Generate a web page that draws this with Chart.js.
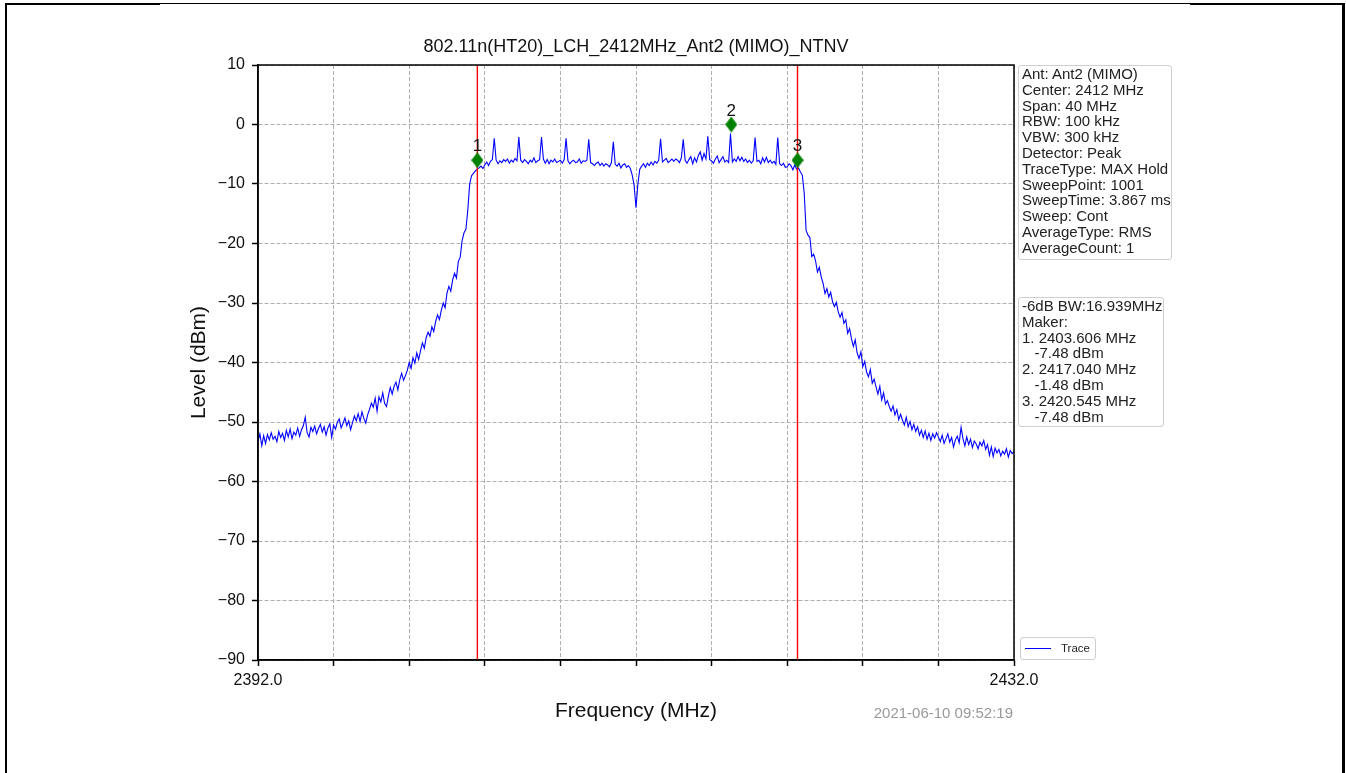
<!DOCTYPE html>
<html>
<head>
<meta charset="utf-8">
<script src="https://cdn.jsdelivr.net/npm/chart.js@4.4.1/dist/chart.umd.min.js"></script>
<style>
  body { margin: 0; background: #fff; font-family: "Liberation Sans", Arial, sans-serif; }
  #wrap { position: relative; width: 1346px; height: 773px; overflow: hidden; }
  .frame { position: absolute; left: 5px; top: 3px; width: 1340px; height: 800px; box-sizing: border-box;
           border-left: 2px solid #000; border-top: 2px solid #000; border-right: 3px solid #000; }
  .frame-cut { position: absolute; left: 160px; top: 4px; width: 1030px; height: 1px; background: #fff; }
  canvas { position: absolute; left: 0; top: 0; }
  .box { position: absolute; border: 1px solid #cfcfcf; border-radius: 3px; background: #fff;
         font-size: 15px; line-height: 15.8px; color: #222; white-space: pre; box-sizing: border-box; padding: 0 3px; }
  #info { left: 1018px; top: 65px; width: 154px; height: 195px; }
  #maker { left: 1018px; top: 297px; width: 146px; height: 130px; }
  #legend { left: 1020px; top: 637px; width: 76px; height: 23px; font-size: 11.5px; line-height: 21px; }
  #legend .swatch { position: absolute; left: 4px; top: 10px; width: 26px; height: 0; border-top: 1.5px solid #0000ff; }
  #legend span { position: absolute; left: 40px; top: 0; }
  #stamp { position: absolute; right: 333px; top: 704px; font-size: 15px; color: #999; }
</style>
</head>
<body>
<div id="wrap">
  <div class="frame"></div>
  <div class="frame-cut"></div>
  <canvas id="spectrum" width="1346" height="773"></canvas>
  <div id="info" class="box"></div>
  <div id="maker" class="box"></div>
  <div id="legend" class="box"><div class="swatch"></div><span>Trace</span></div>
  <div id="stamp">2021-06-10 09:52:19</div>
</div>
<script>
// sweep: 2392.0 .. 2432.0 MHz, one reading every 0.1 MHz
const traceStart = 2392.0
const traceStep = 0.1
const traceLevel = [
  -53.2, -52.0, -54.0, -52.3, -53.6, -52.1, -53.0, -51.8, -52.9, -52.4, -53.3, -51.6, -52.6, -51.9, -53.1, -51.4, -52.5, -51.2, -52.8, -51.7,
  -52.2, -51.0, -52.4, -51.3, -50.6, -49.2, -51.8, -52.5, -50.9, -51.6, -50.7, -52.0, -51.1, -50.4, -51.7, -50.8, -52.2, -51.0, -50.3, -52.6,
  -50.5, -51.2, -50.0, -49.5, -51.0, -50.2, -49.3, -50.6, -49.8, -51.3, -50.1, -49.0, -49.8, -48.6, -49.9, -48.3, -49.4, -50.2, -48.8, -47.9,
  -46.8, -47.5, -46.0, -48.2, -45.8, -46.6, -45.1, -46.9, -47.4, -45.6, -44.2, -45.3, -44.0, -43.3, -44.6, -42.9, -41.8, -43.0, -42.2, -41.3,
  -40.0, -41.0, -39.2, -40.1, -38.4, -39.5, -38.0, -36.7, -37.6, -35.8, -34.9, -35.6, -34.0, -34.8, -33.1, -32.0, -32.8, -31.2, -30.0, -30.8,
  -28.3, -27.2, -28.0, -26.1, -25.0, -25.8, -23.0, -22.3, -19.5, -18.2, -17.6, -14.4, -10.0, -8.6, -8.2, -7.8, -7.5, -7.3, -7.0, -7.4,
  -6.8, -6.3, -6.9, -6.2, -5.9, -2.3, -6.0, -6.6, -6.1, -6.4, -5.9, -6.2, -5.8, -6.5, -6.0, -6.3, -5.7, -6.1, -2.1, -6.0,
  -6.4, -5.9, -6.2, -6.6, -6.0, -6.3, -5.6, -6.4, -6.1, -5.9, -2.1, -5.8, -6.5, -5.9, -6.6, -6.0, -6.3, -5.8, -6.4, -6.2,
  -6.0, -6.5, -5.9, -2.3, -6.1, -6.6, -6.2, -6.0, -6.4, -6.3, -5.8, -6.5, -6.1, -6.2, -6.0, -2.5, -6.4, -6.6, -6.9, -6.5,
  -6.3, -6.9, -6.5, -7.0, -6.6, -6.8, -7.1, -6.4, -2.9, -6.7, -7.0, -6.5, -7.3, -6.8, -6.6, -7.2, -6.9, -7.4, -8.5, -10.2,
  -14.0, -10.0, -7.5, -7.0, -6.6, -7.2, -6.5, -6.9, -6.3, -6.8, -6.2, -6.5, -6.0, -2.4, -6.3, -6.0, -5.7, -6.4, -6.1, -5.8,
  -6.2, -5.8, -6.0, -6.4, -5.6, -2.5, -6.0, -6.5, -5.9, -5.4, -6.6, -5.6, -6.3, -5.2, -4.6, -6.0, -4.9, -5.8, -2.0, -5.9,
  -6.1, -6.5, -5.8, -5.3, -6.4, -5.9, -5.4, -6.3, -6.0, -6.4, -1.5, -6.3, -5.8, -6.2, -5.4, -6.1, -5.5, -6.2, -5.8, -6.4,
  -6.0, -6.5, -6.1, -2.2, -6.2, -6.0, -6.6, -5.6, -6.3, -5.5, -6.4, -6.0, -6.5, -6.2, -6.7, -2.2, -6.6, -6.9, -6.5, -7.2,
  -7.1, -6.6, -6.9, -7.6, -6.8, -7.5, -7.3, -8.0, -8.5, -11.5, -17.8, -18.6, -19.0, -22.2, -21.8, -22.9, -24.8, -24.0, -25.6, -26.7,
  -28.4, -27.6, -29.0, -28.2, -29.8, -30.6, -29.9, -31.5, -32.4, -31.6, -33.4, -32.8, -35.1, -34.3, -36.0, -37.3, -36.2, -38.4, -39.3, -38.2,
  -40.7, -39.8, -41.6, -42.4, -41.2, -43.5, -42.8, -44.1, -45.3, -44.0, -46.3, -45.1, -47.0, -46.4, -47.4, -48.2, -47.3, -48.8, -47.9, -49.6,
  -48.7, -49.7, -50.5, -49.2, -50.8, -49.9, -51.3, -50.4, -51.6, -50.8, -52.2, -51.4, -52.6, -51.5, -52.9, -51.9, -53.1, -52.0, -52.7, -51.8,
  -52.5, -53.3, -52.2, -53.6, -52.8, -52.0, -53.4, -52.6, -54.2, -53.0, -52.4, -53.5, -50.9, -52.8, -54.0, -52.5, -53.8, -52.9, -54.3, -53.2,
  -53.7, -54.5, -53.4, -54.0, -53.1, -54.6, -53.8, -55.6, -54.2, -55.8, -54.4, -55.2, -54.6, -55.7, -54.9, -55.4, -54.5, -55.9, -54.8, -55.3,
  -55.0
]

// markers (diamonds are drawn 1.48 dB above the read-out level, as in the original)
const markerNames = ["1", "2", "3"]
const markerFreq = [2403.606, 2417.040, 2420.545]
const markerLevel = [-6, 0, -6]
const bwEdgeFreq = [2403.606, 2420.545]

const xTickLabels = ["2392.0", "2432.0"]
const yTickLabels = ["\u221290", "\u221280", "\u221270", "\u221260", "\u221250", "\u221240", "\u221230", "\u221220", "\u221210", "0", "10"]

const infoLines = [
  "Ant: Ant2 (MIMO)", "Center: 2412 MHz", "Span: 40 MHz", "RBW: 100 kHz", "VBW: 300 kHz",
  "Detector: Peak", "TraceType: MAX Hold", "SweepPoint: 1001", "SweepTime: 3.867 ms",
  "Sweep: Cont", "AverageType: RMS", "AverageCount: 1"
]
const makerLines = [
  "-6dB BW:16.939MHz", "Maker:", "1. 2403.606 MHz", "   -7.48 dBm",
  "2. 2417.040 MHz", "   -1.48 dBm", "3. 2420.545 MHz", "   -7.48 dBm"
]

document.getElementById("info").textContent = infoLines.join("\n")
document.getElementById("maker").textContent = makerLines.join("\n")

// thin green diamond used as point style
const diamond = document.createElement("canvas")
diamond.width = 12
diamond.height = 16
const dctx = diamond.getContext("2d")
dctx.fillStyle = "#008000"
dctx.beginPath()
dctx.moveTo(6, 0)
dctx.lineTo(12, 8)
dctx.lineTo(6, 16)
dctx.lineTo(0, 8)
dctx.closePath()
dctx.fill()

const tracePoints = traceLevel.map((v, i) => ({ x: traceStart + i * traceStep, y: v }))
const markerPoints = markerFreq.map((f, i) => ({ x: f, y: markerLevel[i] }))

const redLines = bwEdgeFreq.map((f) => ({
  data: [{ x: f, y: -90 }, { x: f, y: 10 }],
  borderColor: "rgb(255, 0, 0)",
  backgroundColor: "rgb(255, 0, 0)",
  borderWidth: 1.4,
  pointRadius: 0,
}))

// frame around plot + marker numbers
const plotDecor = {
  id: "plotDecor",
  afterDatasetsDraw(chart) {
    const { ctx, chartArea } = chart
    ctx.save()
    ctx.font = "17px 'Liberation Sans', Arial, sans-serif"
    ctx.fillStyle = "#111"
    ctx.textAlign = "center"
    ctx.textBaseline = "alphabetic"
    chart.getDatasetMeta(0).data.forEach((pt, i) => {
      ctx.fillText(markerNames[i], pt.x, pt.y - 9)
    })
    ctx.strokeStyle = "#000"
    ctx.lineWidth = 1.5
    ctx.strokeRect(chartArea.left, chartArea.top, chartArea.right - chartArea.left, chartArea.bottom - chartArea.top)
    ctx.restore()
  },
}

const font = "'Liberation Sans', Arial, sans-serif"

new Chart(document.getElementById("spectrum"), {
  type: "line",
  data: {
    datasets: [
      {
        data: markerPoints,
        showLine: false,
        pointStyle: diamond,
        pointRadius: 7,
      },
      ...redLines,
      {
        data: tracePoints,
        borderColor: "#0000ff",
        borderWidth: 1.1,
        pointRadius: 0,
        tension: 0,
      },
    ],
  },
  options: {
    responsive: false,
    animation: false,
    devicePixelRatio: 1,
    layout: { padding: { left: 187, right: 332, top: 0, bottom: 49 } },
    plugins: {
      legend: { display: false },
      tooltip: { enabled: false },
      title: {
        display: true,
        fullSize: false,
        text: "802.11n(HT20)_LCH_2412MHz_Ant2 (MIMO)_NTNV",
        color: "#111",
        font: { family: font, size: 18, weight: "normal" },
        padding: { top: 36, bottom: 7.4 },
      },
    },
    scales: {
      x: {
        type: "linear",
        min: 2392,
        max: 2432,
        afterFit: (s) => { s.height = 64 },
        ticks: {
          stepSize: 4,
          autoSkip: false,
          maxRotation: 0,
          padding: 5,
          color: "#111",
          font: { family: font, size: 16 },
          callback: (v, i, ticks) => (i === 0 ? xTickLabels[0] : i === ticks.length - 1 ? xTickLabels[1] : ""),
        },
        grid: { color: "#b0b0b0", lineWidth: 1, tickLength: 6, tickColor: "#000", tickWidth: 1.5 },
        border: { display: true, color: "#000", width: 1.5, dash: [4, 2] },
        title: { display: true, text: "Frequency (MHz)", color: "#111", font: { family: font, size: 21 }, padding: 0 },
      },
      y: {
        min: -90,
        max: 10,
        afterFit: (s) => { s.width = 71 },
        ticks: {
          stepSize: 10,
          padding: 7,
          color: "#111",
          font: { family: font, size: 16 },
          callback: (v, i) => yTickLabels[i],
        },
        grid: { color: "#b0b0b0", lineWidth: 1, tickLength: 6, tickColor: "#000", tickWidth: 1.5 },
        border: { display: true, color: "#000", width: 1.5, dash: [4, 2] },
        title: { display: true, text: "Level (dBm)", color: "#111", font: { family: font, size: 21 }, padding: 0 },
      },
    },
  },
  plugins: [plotDecor],
})
</script>
</body>
</html>
